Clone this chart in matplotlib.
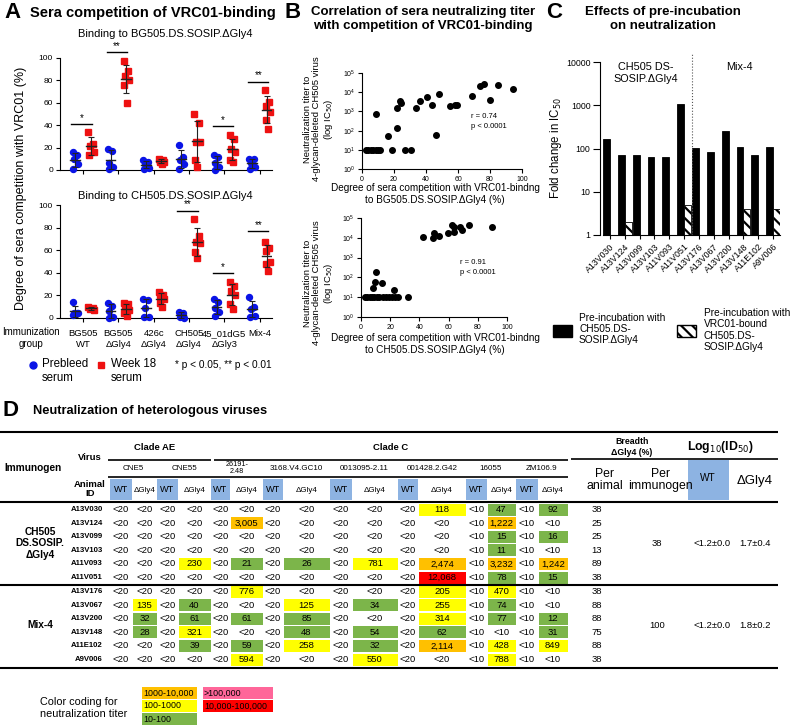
import matplotlib
matplotlib.use('Agg')
import matplotlib.pyplot as plt
import numpy as np
from matplotlib.patches import Rectangle

plt.rcParams['font.family'] = ['Liberation Sans', 'DejaVu Sans']
plt.rcParams['hatch.linewidth'] = 1.6

W, H = 800, 726

# ---------------- panel A data (% competition with VRC01) ----------------
groups_a = ['BG505\nWT', 'BG505\nΔGly4', '426c\nΔGly4', 'CH505\nΔGly4', '45_01dG5\nΔGly3', 'Mix-4']
bg_pre = [[16, 13, 10, 5, 1], [19, 17, 6, 3, 1], [9, 7, 5, 2, 1],
          [22, 12, 9, 5, 1], [13, 12, 6, 3, 0], [10, 10, 6, 3, 1]]
bg_wk18 = [[34, 23, 21, 16, 13], [97, 88, 84, 80, 76, 60], [10, 9, 8, 7, 7, 5],
           [50, 42, 25, 25, 9, 3], [31, 28, 19, 16, 9, 7], [71, 61, 57, 52, 45, 37]]
ch_pre = [[14, 4, 4, 4, 3], [13, 11, 6, 1, 0], [17, 16, 9, 1, 1],
          [5, 4, 1, 0], [17, 14, 9, 5, 2], [19, 10, 8, 2, 1]]
ch_wk18 = [[10, 9, 8, 7], [13, 12, 8, 7, 4, 2], [23, 20, 20, 17, 13, 10],
           [88, 73, 67, 66, 58, 53], [32, 28, 24, 20, 12, 8], [67, 62, 59, 50, 48, 42]]
sig_bg = [(0, 41, '*'), (1, 105, '**'), (4, 39, '*'), (5, 79, '**')]
sig_ch = [(3, 95, '**'), (4, 40, '*'), (5, 77, '**')]

# ---------------- panel B data (competition %, IC50 titer) ----------------
bg_x = [2.5, 4, 5.5, 7, 8.5, 10, 11.5, 18.5, 27, 30.5, 9, 16, 22, 22, 23.5, 24.5, 33.5, 36,
        40.5, 43.5, 48, 46, 55, 58, 59.5, 69, 74, 76, 80, 85, 94.5]
bg_titer = [10, 10, 10, 10, 10, 10, 10, 10, 10, 10, 740, 50, 140, 1500, 3300, 2700, 1500, 3600,
            5600, 2100, 8300, 60, 1800, 2200, 2200, 6000, 22000, 26000, 4000, 25000, 15000]
ch_x = [2.5, 4, 6, 7.5, 9, 11, 12.5, 15, 17, 19.5, 21.5, 23.5, 25.5, 32.5, 8, 9.3, 10.2, 14.3,
        22.7, 42.7, 49, 50.2, 53.4, 59.3, 62.5, 63.4, 63.6, 67.7, 68.9, 74.3, 90]
ch_titer = [10, 10, 10, 10, 10, 10, 10, 10, 10, 10, 10, 10, 10, 10, 28, 59, 195, 52,
            23, 11000, 10000, 18000, 13000, 18000, 43000, 20000, 37000, 35000, 26000, 42000, 37000]

# ---------------- panel C data (fold change in IC50) ----------------
animals_c = ['A13V030', 'A13V124', 'A13V099', 'A13V103', 'A11V093', 'A11V051',
             'A13V176', 'A13V067', 'A13V200', 'A13V148', 'A11E102', 'A9V006']
fold_env = [170, 70, 70, 65, 65, 1050, 105, 82, 250, 108, 72, 108]
fold_vrc01 = [1, 2, 1, 1, 1, 5, 1, 1, 1, 4, 1, 4]

# ---------------- panel D data (ID50 titers) ----------------
viruses = ['CNE5', 'CNE55', '26191-\n2.48', '3168.V4.GC10', '0013095-2.11', '001428.2.G42', '16055', 'ZM106.9']
animals_ch505 = ['A13V030', 'A13V124', 'A13V099', 'A13V103', 'A11V093', 'A11V051']
titers_ch505 = [
    ['<20', '<20', '<20', '<20', '<20', '<20', '<20', '<20', '<20', '<20', '<20', '118', '<10', '47', '<10', '92'],
    ['<20', '<20', '<20', '<20', '<20', '3,005', '<20', '<20', '<20', '<20', '<20', '<20', '<10', '1,222', '<10', '<10'],
    ['<20', '<20', '<20', '<20', '<20', '<20', '<20', '<20', '<20', '<20', '<20', '<20', '<10', '15', '<10', '16'],
    ['<20', '<20', '<20', '<20', '<20', '<20', '<20', '<20', '<20', '<20', '<20', '<20', '<10', '11', '<10', '<10'],
    ['<20', '<20', '<20', '230', '<20', '21', '<20', '26', '<20', '781', '<20', '2,474', '<10', '3,232', '<10', '1,242'],
    ['<20', '<20', '<20', '<20', '<20', '<20', '<20', '<20', '<20', '<20', '<20', '12,068', '<10', '78', '<10', '15'],
]
animals_mix4 = ['A13V176', 'A13V067', 'A13V200', 'A13V148', 'A11E102', 'A9V006']
titers_mix4 = [
    ['<20', '<20', '<20', '<20', '<20', '776', '<20', '<20', '<20', '<20', '<20', '205', '<10', '470', '<10', '<10'],
    ['<20', '135', '<20', '40', '<20', '<20', '<20', '125', '<20', '34', '<20', '255', '<10', '74', '<10', '<10'],
    ['<20', '32', '<20', '61', '<20', '61', '<20', '85', '<20', '<20', '<20', '314', '<10', '77', '<10', '12'],
    ['<20', '28', '<20', '321', '<20', '<20', '<20', '48', '<20', '54', '<20', '62', '<10', '<10', '<10', '31'],
    ['<20', '<20', '<20', '39', '<20', '59', '<20', '258', '<20', '32', '<20', '2,114', '<10', '428', '<10', '849'],
    ['<20', '<20', '<20', '<20', '<20', '594', '<20', '<20', '<20', '550', '<20', '<20', '<10', '788', '<10', '<10'],
]
breadth_ch505 = [38, 25, 25, 13, 89, 38]
breadth_mix4 = [38, 88, 88, 75, 88, 38]
per_immunogen = [38, 100]
log_wt = ['<1.2±0.0', '<1.2±0.0']
log_dgly4 = ['1.7±0.4', '1.8±0.2']

BLUE_CELL = '#8db3e2'
titer_colors = [(10, 100, '#7cb54a'), (100, 1000, '#ffff00'), (1000, 10000, '#ffc000'),
                (10000, 100000, '#ff0000'), (100000, 1e12, '#ff6699')]

fig = plt.figure(figsize=(W / 100, H / 100), dpi=100)


def box(x0, y0, x1, y1):
    return fig.add_axes([x0 / W, 1 - y1 / H, (x1 - x0) / W, (y1 - y0) / H])


def ftext(x, y, s, **kw):
    kw.setdefault('va', 'center')
    fig.text(x / W, 1 - y / H, s, **kw)


def style_axis(ax, size=6):
    for s in ('top', 'right'):
        ax.spines[s].set_visible(False)
    ax.tick_params(labelsize=size, length=3, width=0.8, pad=2)


# ================= Panel A =================
ftext(4, 13, 'A', fontsize=16, fontweight='bold')
ftext(30, 13, 'Sera competition of VRC01-binding', fontsize=10.5, fontweight='bold')
ftext(165, 34, 'Binding to BG505.DS.SOSIP.ΔGly4', fontsize=8, ha='center')
ftext(165, 196, 'Binding to CH505.DS.SOSIP.ΔGly4', fontsize=8, ha='center')
jit = [-0.07, 0.05, -0.03, 0.08, -0.05, 0.02]


def comp_panel(ax, pre, wk, sig):
    for i in range(len(pre)):
        for vals, dx, col, mk in ((pre[i], -0.22, '#0a14e6', 'o'), (wk[i], 0.22, '#ee1111', 's')):
            xs = [i + dx + jit[k % 6] for k in range(len(vals))]
            ax.plot(xs, vals, mk, color=col, ms=4.3, ls='none', clip_on=False, zorder=3)
            m, s = np.mean(vals), np.std(vals, ddof=1)
            ax.plot([i + dx - 0.14, i + dx + 0.14], [m, m], color='#222222', lw=1, zorder=4)
            ax.errorbar(i + dx, m, yerr=s, color='#222222', capsize=2.5, lw=0.8, capthick=0.8, zorder=4)
    for i, h, star in sig:
        ax.plot([i - 0.33, i + 0.25], [h, h], color='k', lw=1, clip_on=False)
        ax.text(i - 0.04, h + 1, star, ha='center', va='bottom', fontsize=7)
    ax.set_xlim(-0.65, 5.35)
    ax.set_ylim(0, 100)
    ax.set_yticks(range(0, 101, 20))
    ax.set_xticks(range(len(pre)))
    style_axis(ax)


axa1 = box(60, 58, 272, 170)
comp_panel(axa1, bg_pre, bg_wk18, sig_bg)
axa1.set_xticklabels([])
axa2 = box(60, 205, 272, 318)
comp_panel(axa2, ch_pre, ch_wk18, sig_ch)
axa2.set_xticklabels(groups_a, fontsize=6.8, linespacing=1.3)
axa2.tick_params(axis='x', pad=5)
ftext(21, 188, 'Degree of sera competition with VRC01 (%)', fontsize=9, rotation=90, ha='center')
ftext(31, 338, 'Immunization\ngroup', fontsize=7.0, ha='center', linespacing=1.3)
fig.lines.append(plt.Line2D([33 / W], [1 - 365 / H], marker='o', color='#0a14e6', ms=5, transform=fig.transFigure))
ftext(42, 371, 'Prebleed\nserum', fontsize=8.3, linespacing=1.2)
fig.lines.append(plt.Line2D([101 / W], [1 - 365 / H], marker='s', color='#ee1111', ms=5, transform=fig.transFigure))
ftext(111, 371, 'Week 18\nserum', fontsize=8.3, linespacing=1.2)
ftext(175, 365, '* p < 0.05, ** p < 0.01', fontsize=7.3)

# ================= Panel B =================
ftext(284, 13, 'B', fontsize=16, fontweight='bold')
ftext(423, 19, 'Correlation of sera neutralizing titer\nwith competition of VRC01-binding',
      fontsize=9.5, fontweight='bold', ha='center', linespacing=1.15)


def corr_panel(ax, xs, ys, stat):
    ax.plot(xs, ys, 'o', color='black', ms=4, ls='none', clip_on=False)
    ax.set_yscale('log')
    ax.set_ylim(1, 1e5)
    ax.set_xlim(0, 100)
    ax.set_yticks([10 ** k for k in range(6)])
    ax.minorticks_off()
    ax.set_xticks(range(0, 101, 20))
    style_axis(ax, 5)
    ax.text(0.68, 0.5, stat, transform=ax.transAxes, fontsize=5.5, va='center', linespacing=1.6)


axb1 = box(362, 73, 522, 169)
corr_panel(axb1, bg_x, bg_titer, 'r = 0.74\np < 0.0001')
axb2 = box(361, 218, 507, 317)
corr_panel(axb2, ch_x, ch_titer, 'r = 0.91\np < 0.0001')
ylab_b = 'Neutralization titer to\n4-glycan-deleted CH505 virus\n(log IC$_{50}$)'
ftext(319, 119, ylab_b, fontsize=6.8, rotation=90, ha='center', linespacing=1.1)
ftext(319, 283, ylab_b, fontsize=6.8, rotation=90, ha='center', linespacing=1.1)
ftext(435, 194, 'Degree of sera competition with VRC01-bindng\nto BG505.DS.SOSIP.ΔGly4 (%)',
      fontsize=7.2, ha='center', linespacing=1.15)
ftext(435, 344, 'Degree of sera competition with VRC01-bindng\nto CH505.DS.SOSIP.ΔGly4 (%)',
      fontsize=7.2, ha='center', linespacing=1.15)

# ================= Panel C =================
ftext(546, 13, 'C', fontsize=16, fontweight='bold')
ftext(663, 19, 'Effects of pre-incubation\non neutralization', fontsize=9.5, fontweight='bold',
      ha='center', linespacing=1.15)
axc = box(603, 62, 780, 235)
xc = np.arange(len(animals_c))
axc.bar(xc - 0.23, fold_env, width=0.46, color='black', edgecolor='black', linewidth=0.6)
axc.bar(xc + 0.23, fold_vrc01, width=0.46, color='white', edgecolor='black', hatch='\\\\\\', linewidth=0.6)
axc.set_yscale('log')
axc.set_ylim(1, 10000)
axc.set_xlim(-0.46, len(animals_c) - 0.54)
axc.set_yticks([1, 10, 100, 1000, 10000])
axc.set_yticklabels(['1', '10', '100', '1000', '10000'])
axc.minorticks_off()
axc.set_xticks(xc)
axc.set_xticklabels(animals_c, rotation=45, ha='right', rotation_mode='anchor', fontsize=6.3)
style_axis(axc, 6.3)
axc.tick_params(axis='y', length=5)
axc.spines['left'].set_position(('outward', 2))
axc.axvline(5.5, ymin=0, ymax=1.05, color='#555555', lw=0.8, ls=':', clip_on=False)
axc.text(0.24, 1.0, 'CH505 DS-\nSOSIP.ΔGly4', transform=axc.transAxes, fontsize=7.8, ha='center',
         va='top', linespacing=1.2)
axc.text(0.77, 1.0, 'Mix-4', transform=axc.transAxes, fontsize=7.8, ha='center', va='top')
ftext(556, 148, 'Fold change in IC$_{50}$', fontsize=8.3, rotation=90, ha='center')
fig.patches.append(Rectangle((553 / W, 1 - 337 / H), 19 / W, 12 / H, transform=fig.transFigure,
                             facecolor='black', edgecolor='black'))
ftext(579, 329, 'Pre-incubation with\nCH505.DS-\nSOSIP.ΔGly4', fontsize=7.3, linespacing=1.15)
fig.patches.append(Rectangle((677 / W, 1 - 337 / H), 19 / W, 12 / H, transform=fig.transFigure,
                             facecolor='white', edgecolor='black', hatch='\\\\\\', linewidth=1))
ftext(704, 330, 'Pre-incubation with\nVRC01-bound\nCH505.DS-\nSOSIP.ΔGly4', fontsize=7.3, linespacing=1.15)

# ================= Panel D (table) =================
ftext(3, 411, 'D', fontsize=16, fontweight='bold')
ftext(33, 411, 'Neutralization of heterologous viruses', fontsize=9.3, fontweight='bold')
axd = fig.add_axes([0, 0, 1, 1])
axd.set_xlim(0, W)
axd.set_ylim(H, 0)
axd.axis('off')

edges = [110, 132, 157, 178, 211, 230, 263, 283, 330, 352, 398, 418, 466, 487, 516, 538, 568]
centers = [(a + b) / 2 for a, b in zip(edges[:-1], edges[1:])]


def hline(y, x0, x1, lw=1.5):
    axd.plot([x0, x1], [y, y], color='black', lw=lw, solid_capstyle='butt')


hline(432, 0, 778)
hline(460, 108, 211, 1.2)
hline(460, 214, 568, 1.2)
hline(459, 571, 778, 1.2)
hline(477, 108, 568, 1.2)
hline(502, 0, 778)
hline(585, 0, 778)
hline(668, 0, 778)

bold7 = dict(fontsize=6.8, fontweight='bold', ha='center', va='center')
axd.text(90, 457, 'Virus', **bold7)
axd.text(33, 468, 'Immunogen', fontsize=7.3, fontweight='bold', ha='center', va='center')
axd.text(155, 447, 'Clade AE', **bold7)
axd.text(391, 447, 'Clade C', **bold7)
for k, v in enumerate(viruses):
    axd.text((edges[2 * k] + edges[2 * k + 2]) / 2, 468, v, fontsize=5.8 if '\n' not in v else 5.2,
             ha='center', va='center', linespacing=0.95)
axd.text(90, 489, 'Animal\nID', fontsize=6.8, fontweight='bold', ha='center', va='center', linespacing=1.05)
for j in range(16):
    if j % 2 == 0:
        axd.add_patch(Rectangle((edges[j], 479), edges[j + 1] - edges[j], 21, color=BLUE_CELL, lw=0))
        axd.text(centers[j], 490, 'WT', fontsize=6.6, ha='center', va='center')
    else:
        axd.text(centers[j], 490, 'ΔGly4', fontsize=5.8, ha='center', va='center')
axd.text(632, 447, 'Breadth\nΔGly4 (%)', fontsize=6.3, fontweight='bold', ha='center', va='center',
         linespacing=1.2)
axd.text(720, 447, 'Log$_{10}$(ID$_{50}$)', fontsize=8.8, fontweight='bold', ha='center', va='center')
axd.add_patch(Rectangle((688, 460), 41, 40, color=BLUE_CELL, lw=0))
axd.text(708, 478, 'WT', fontsize=7.3, ha='center', va='center')
axd.text(755, 481, 'ΔGly4', fontsize=9.5, ha='center', va='center')
axd.text(605, 480, 'Per\nanimal', fontsize=8.8, ha='center', va='center', linespacing=1.0)
axd.text(660, 480, 'Per\nimmunogen', fontsize=8.8, ha='center', va='center', linespacing=1.0)


def cell_color(s):
    if s.startswith('<'):
        return None
    v = int(s.replace(',', ''))
    for lo, hi, c in titer_colors:
        if lo <= v < hi:
            return c
    return None


row_h = 13.6
groups_d = [('CH505\nDS.SOSIP.\nΔGly4', animals_ch505, titers_ch505, breadth_ch505, 509.5),
            ('Mix-4', animals_mix4, titers_mix4, breadth_mix4, 591.5)]
for g, (name, ids, titers, breadth, y0) in enumerate(groups_d):
    ymid = y0 + row_h * (len(ids) - 1) / 2
    axd.text(40, ymid, name, fontsize=7.3, fontweight='bold', ha='center', va='center', linespacing=1.15)
    axd.text(657, ymid, str(per_immunogen[g]), fontsize=6.8, ha='center', va='center')
    axd.text(712, ymid, log_wt[g], fontsize=6.8, ha='center', va='center')
    axd.text(755, ymid, log_dgly4[g], fontsize=6.8, ha='center', va='center')
    for r, aid in enumerate(ids):
        y = y0 + r * row_h
        axd.text(103, y, aid, fontsize=5.6, fontweight='bold', ha='right', va='center')
        for j, s in enumerate(titers[r]):
            c = cell_color(s)
            if c:
                axd.add_patch(Rectangle((edges[j] + 0.5, y - 6), edges[j + 1] - edges[j] - 1, 12, color=c, lw=0))
            axd.text(centers[j], y, s, fontsize=6.8, ha='center', va='center')
        axd.text(597, y, str(breadth[r]), fontsize=6.8, ha='center', va='center')

# legend for titer colours
ftext(40, 708, 'Color coding for\nneutralization titer', fontsize=7.8, linespacing=1.3)
legend_d = [('1000-10,000', '#ffc000', 142, 687), ('100-1000', '#ffff00', 142, 700),
            ('10-100', '#7cb54a', 142, 713), ('>100,000', '#ff6699', 203, 687),
            ('10,000-100,000', '#ff0000', 203, 700)]
for lab, c, x, y in legend_d:
    w = 55 if x == 142 else 70
    axd.add_patch(Rectangle((x, y), w, 12, color=c, lw=0))
    axd.text(x + 1, y + 6, lab, fontsize=6.4, va='center', ha='left')

fig.savefig('out.png', dpi=100)
